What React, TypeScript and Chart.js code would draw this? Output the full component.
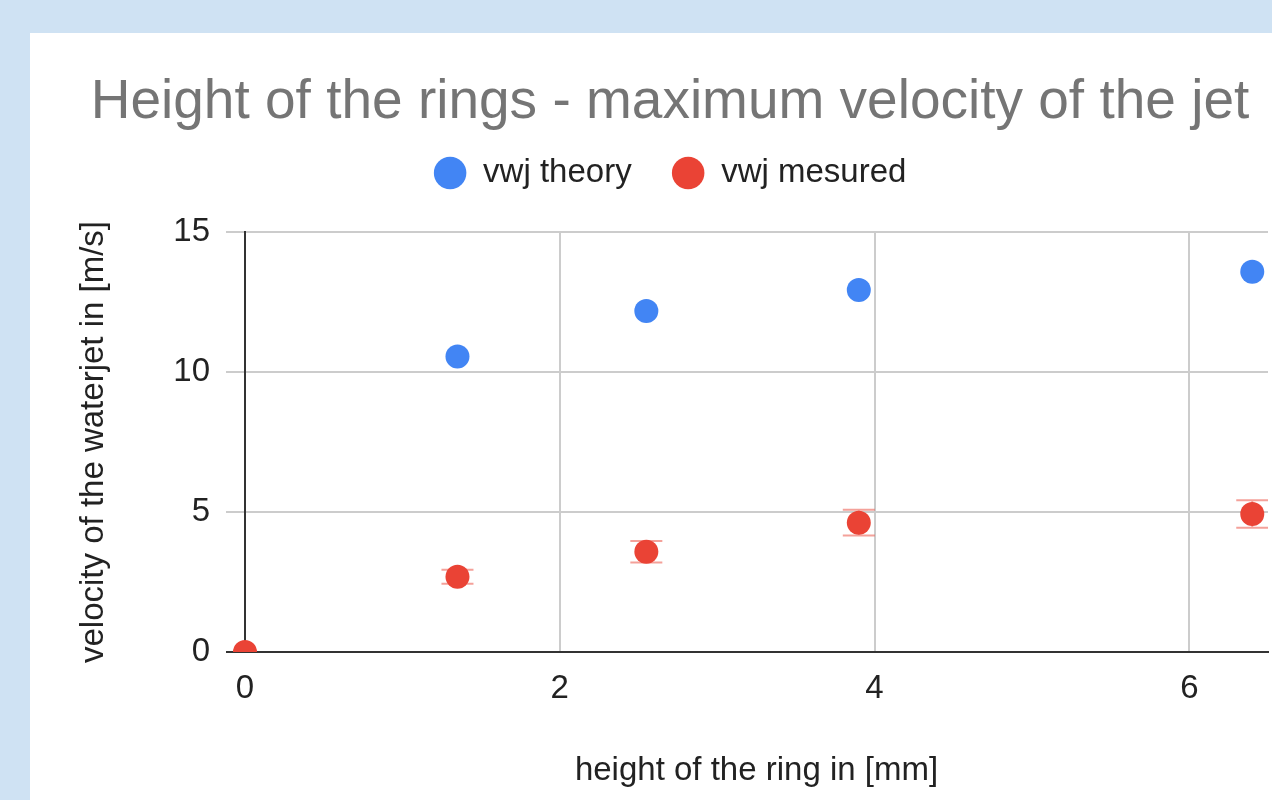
import React, { useEffect, useRef } from "react";
import { Chart, registerables } from "chart.js";

Chart.register(...registerables);

const TITLE = "Height of the rings - maximum velocity of the jet";
const X_TITLE = "height of the ring in [mm]";
const Y_TITLE = "velocity of the waterjet in [m/s]";
const THEORY_LABEL = "vwj theory";
const MEASURED_LABEL = "vwj mesured";

const theoryHeights = [1.35, 2.55, 3.9, 6.4];
const theoryVelocity = [10.55, 12.18, 12.93, 13.58];
const measuredHeights = [0, 1.35, 2.55, 3.9, 6.4];
const measuredVelocity = [0, 2.69, 3.58, 4.62, 4.93];
const measuredError = [0, 0.25, 0.38, 0.46, 0.49];

const X_MIN = 0;
const X_MAX = 6.5;
const X_STEP = 2;
const Y_MIN = 0;
const Y_MAX = 15;
const Y_STEP = 5;

const FONT = "'Liberation Sans', Arial, sans-serif";
const BLUE = "#4285f4";
const RED = "#ea4335";
const ERR_COLOR = "rgba(234, 67, 53, 0.5)";
const GRID = "#cccccc";
const AXIS = "#333333";

const errorBarPlugin = {
  id: "errorBars",
  beforeDatasetsDraw(chart: any) {
    const meta = chart.getDatasetMeta(1);
    if (!meta || meta.hidden) return;
    const xs = chart.scales.x;
    const ys = chart.scales.y;
    const ctx = chart.ctx;
    const area = chart.chartArea;
    ctx.save();
    ctx.beginPath();
    ctx.rect(area.left, area.top, area.right - area.left, area.bottom - area.top);
    ctx.clip();
    ctx.strokeStyle = ERR_COLOR;
    ctx.lineWidth = 2;
    measuredHeights.forEach((h, i) => {
      const e = measuredError[i];
      if (!e) return;
      const v = measuredVelocity[i];
      const px = xs.getPixelForValue(h);
      const top = ys.getPixelForValue(v + e);
      const bot = ys.getPixelForValue(v - e);
      const cap = 16;
      ctx.beginPath();
      ctx.moveTo(px, top);
      ctx.lineTo(px, bot);
      ctx.moveTo(px - cap, top);
      ctx.lineTo(px + cap, top);
      ctx.moveTo(px - cap, bot);
      ctx.lineTo(px + cap, bot);
      ctx.stroke();
    });
    ctx.restore();
  },
};

export default function App() {
  const canvasRef = useRef<HTMLCanvasElement | null>(null);

  useEffect(() => {
    const canvas = canvasRef.current;
    if (!canvas) return;
    const chart = new Chart(canvas, {
      type: "scatter",
      data: {
        datasets: [
          {
            label: THEORY_LABEL,
            data: theoryHeights.map((x, i) => ({ x, y: theoryVelocity[i] })),
            backgroundColor: BLUE,
            borderColor: BLUE,
            borderWidth: 0,
            pointRadius: 12,
            pointHoverRadius: 12,
            clip: { left: false, right: false, top: false, bottom: 0 } as any,
          },
          {
            label: MEASURED_LABEL,
            data: measuredHeights.map((x, i) => ({ x, y: measuredVelocity[i] })),
            backgroundColor: RED,
            borderColor: RED,
            borderWidth: 0,
            pointRadius: 12,
            pointHoverRadius: 12,
            clip: { left: false, right: false, top: false, bottom: 0 } as any,
          },
        ],
      },
      options: {
        responsive: false,
        animation: false,
        devicePixelRatio: 1,
        layout: { padding: { left: 42, right: 42, top: 0, bottom: 0 } },
        font: { family: FONT },
        plugins: {
          tooltip: { enabled: false },
          title: {
            display: true,
            text: TITLE,
            color: "#757575",
            font: { family: FONT, size: 55, weight: "normal", lineHeight: 0.48 },
            padding: { top: 57, bottom: 0.1 },
          },
          subtitle: {
            display: true,
            text: " ",
            weight: 500,
            font: { family: FONT, size: 10, lineHeight: 1 },
            padding: { top: 22.5, bottom: 0 },
          } as any,
          legend: {
            display: true,
            position: "top",
            labels: {
              usePointStyle: true,
              pointStyle: "circle",
              boxHeight: 23,
              padding: 40,
              color: "#222222",
              font: { family: FONT, size: 33 },
            },
          },
        },
        scales: {
          x: {
            type: "linear",
            min: X_MIN,
            max: X_MAX,
            afterFit: (s: any) => {
              s.height = 148;
            },
            ticks: {
              stepSize: X_STEP,
              includeBounds: false,
              padding: 17,
              color: "#222222",
              font: { family: FONT, size: 33 },
            },
            grid: {
              drawTicks: false,
              lineWidth: 2,
              color: (c: any) => (c.tick && c.tick.value === 0 ? AXIS : GRID),
            },
            border: { display: true, color: AXIS, width: 2 },
            title: {
              display: true,
              text: X_TITLE,
              color: "#222222",
              font: { family: FONT, size: 33 },
              padding: { top: 10, bottom: 9 },
            },
          },
          y: {
            type: "linear",
            min: Y_MIN,
            max: Y_MAX,
            afterFit: (s: any) => {
              s.width = 173;
            },
            ticks: {
              stepSize: Y_STEP,
              padding: 16,
              color: "#222222",
              font: { family: FONT, size: 33 },
            },
            grid: {
              drawTicks: true,
              tickLength: 19,
              lineWidth: 2,
              color: (c: any) => (c.tick && c.tick.value === 0 ? AXIS : GRID),
            },
            border: { display: true, color: AXIS, width: 2 },
            title: {
              display: true,
              text: Y_TITLE,
              color: "#222222",
              font: { family: FONT, size: 33, lineHeight: 1 },
              padding: { top: 5, bottom: 10 },
            },
          },
        },
      },
      plugins: [errorBarPlugin],
    });
    return () => {
      chart.destroy();
    };
  }, []);

  return (
    <div
      style={{
        position: "fixed",
        left: 0,
        top: 0,
        width: "100vw",
        height: "100vh",
        overflow: "hidden",
        background: "#cfe2f3",
      }}
    >
      <div
        style={{
          position: "absolute",
          left: 30,
          top: 33,
          width: 1280,
          height: 767,
          background: "#ffffff",
        }}
      >
        <canvas ref={canvasRef} width={1280} height={767} style={{ display: "block", width: 1280, height: 767 }} />
      </div>
    </div>
  );
}
